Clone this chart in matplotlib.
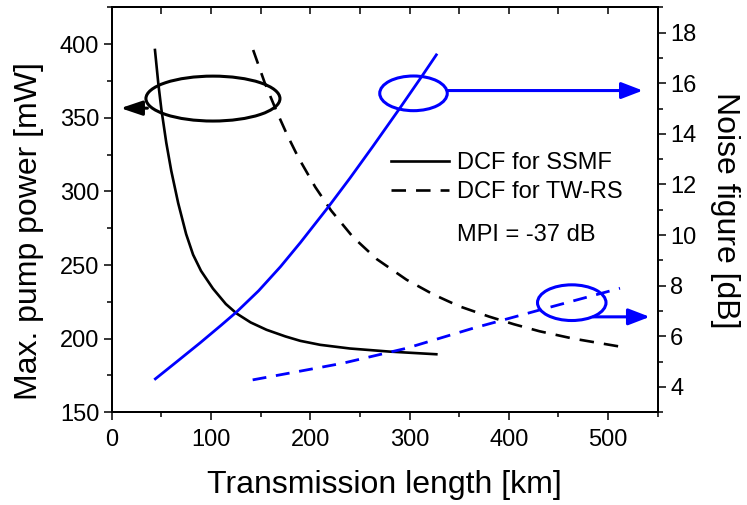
import matplotlib.pyplot as plt
from matplotlib.patches import Ellipse
from matplotlib.lines import Line2D
from matplotlib.ticker import MultipleLocator

plt.rcParams['font.family'] = ['Liberation Sans', 'DejaVu Sans']

# Max. pump power, DCF for SSMF (left axis)
ssmf_len = [43.6, 47, 50, 55, 60, 67, 75, 82, 90, 102, 115, 126, 140, 156, 175, 190, 210, 240, 280, 327]
ssmf_pump = [396, 373, 356, 333, 314, 292, 271, 257, 246, 234, 223.5, 217, 211, 206, 201.5, 198.5, 195.8, 193.3, 191.2, 189.4]

# Max. pump power, DCF for TW-RS (left axis)
twrs_len = [142.5, 154, 166, 177, 188, 205, 221, 243, 267, 297, 324, 350, 380, 405, 431, 465, 512]
twrs_pump = [396, 374, 354.5, 338, 323, 303, 287, 269, 254, 240, 230, 222, 215, 209.8, 205, 200, 194.6]

# Noise figure (right axis)
ssmf_nf_len = [44, 65, 89, 110, 126, 148, 170, 190, 218, 240, 263, 290, 312, 327]
ssmf_nf = [4.32, 4.98, 5.74, 6.43, 6.97, 7.8, 8.75, 9.7, 11.1, 12.25, 13.5, 15.0, 16.25, 17.12]
twrs_nf_len = [142, 196, 233, 297, 364, 431, 512]
twrs_nf = [4.28, 4.67, 4.94, 5.53, 6.32, 7.04, 7.90]

fig = plt.figure(figsize=(7.47, 5.05), dpi=100)
ax = fig.add_axes([0.1495, 0.1836, 0.731, 0.802])
ax2 = ax.twinx()

dash = (0, (5.5, 3.8))
ax.plot(ssmf_len, ssmf_pump, color='black', lw=1.9)
ax.plot(twrs_len, twrs_pump, color='black', lw=1.9, linestyle=dash)
ax2.plot(ssmf_nf_len, ssmf_nf, color='#0000ff', lw=2.0)
ax2.plot(twrs_nf_len, twrs_nf, color='#0000ff', lw=2.0, linestyle=(0, (5, 3.5)))

ax.set_xlim(0, 550)
ax.set_ylim(150, 425)
ax2.set_ylim(3, 19)

ax.xaxis.set_major_locator(MultipleLocator(100))
ax.xaxis.set_minor_locator(MultipleLocator(50))
ax.yaxis.set_major_locator(MultipleLocator(50))
ax.yaxis.set_minor_locator(MultipleLocator(25))
ax2.yaxis.set_major_locator(MultipleLocator(2))
ax2.yaxis.set_minor_locator(MultipleLocator(1))

for a in (ax, ax2):
    for s in a.spines.values():
        s.set_linewidth(1.4)
ax.tick_params(which='major', direction='out', length=6, width=1.1, labelsize=17, pad=3)
ax.tick_params(axis='x', which='major', pad=6)
ax.tick_params(which='minor', direction='out', length=3.5, width=1.1)
ax2.tick_params(which='major', direction='out', length=6, width=1.1, labelsize=17, pad=3)
ax2.tick_params(which='minor', direction='out', length=3.5, width=1.1)
ax2.set_yticks([4, 6, 8, 10, 12, 14, 16, 18])

top = ax.secondary_xaxis('top')
top.set_xticks(range(50, 550, 50))
top.tick_params(direction='in', length=5, width=1.1, labeltop=False)
top.spines['top'].set_visible(False)

ax.set_xlabel('Transmission length [km]', fontsize=23, labelpad=14)
fig.text(29.5 / 747, 1 - 231 / 505, 'Max. pump power [mW]', fontsize=23,
         rotation=90, ha='center', va='center')
ax2.set_ylabel('Noise figure [dB]', fontsize=23, rotation=270, labelpad=31)

# annotations: ellipses with arrows pointing to each axis
ax.add_patch(Ellipse((102, 363), 135, 30.5, fill=False, ec='black', lw=2.2))
ax.annotate('', xy=(9, 356.5), xytext=(36, 356.5),
            arrowprops=dict(arrowstyle='-|>,head_length=0.65,head_width=0.22',
                            color='black', lw=2.2, shrinkA=0, shrinkB=0,
                            mutation_scale=20))
ax2.add_patch(Ellipse((304, 15.6), 68, 1.37, fill=False, ec='#0000ff', lw=2.2))
ax2.annotate('', xy=(535, 15.71), xytext=(338, 15.71),
             arrowprops=dict(arrowstyle='-|>,head_length=0.65,head_width=0.25',
                             color='#0000ff', lw=2.2, shrinkA=0, shrinkB=0,
                             mutation_scale=20))
ax2.add_patch(Ellipse((463.4, 7.33), 69, 1.41, fill=False, ec='#0000ff', lw=2.2))
ax2.annotate('', xy=(542, 6.77), xytext=(485, 6.77),
             arrowprops=dict(arrowstyle='-|>,head_length=0.65,head_width=0.25',
                             color='#0000ff', lw=2.2, shrinkA=0, shrinkB=0,
                             mutation_scale=20))

handles = [Line2D([], [], color='black', lw=1.9),
           Line2D([], [], color='black', lw=1.9, linestyle=dash)]
ax2.legend(handles, ['DCF for SSMF', 'DCF for TW-RS'], frameon=False,
           fontsize=17, loc='upper left', bbox_to_anchor=(391 / 747, 1 - 152 / 505),
           bbox_transform=fig.transFigure, borderpad=0, borderaxespad=0,
           handlelength=2.45, handletextpad=0.35, labelspacing=0.3)
ax2.text(0.632, 0.438, 'MPI = -37 dB', transform=ax.transAxes, fontsize=17,
         ha='left', va='center')

fig.savefig('out.png', dpi=100)
